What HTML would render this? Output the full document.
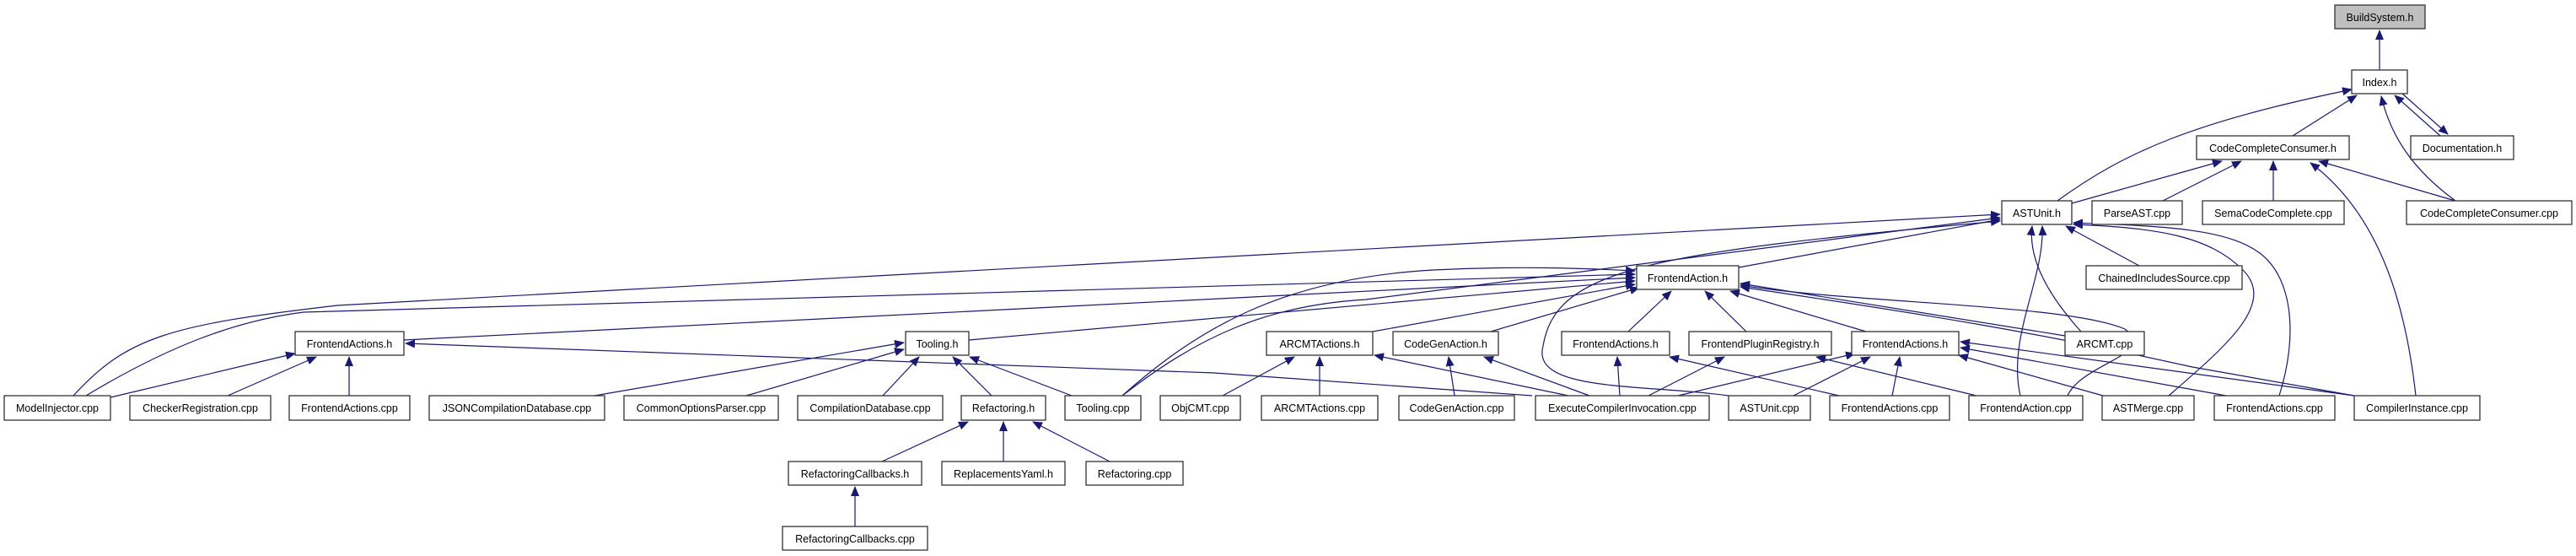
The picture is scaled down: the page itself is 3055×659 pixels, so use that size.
<!DOCTYPE html>
<html><head><meta charset="utf-8"><style>
html,body{margin:0;padding:0;background:#fff;}
svg{display:block;}
text{font-family:"Liberation Sans",Arial,sans-serif;font-size:12.5px;fill:#000;text-anchor:middle;}
.n{fill:#fff;stroke:#333;stroke-width:1.3;}
.e{fill:none;stroke:#191970;stroke-width:1.2;}
</style></head><body>
<svg width="3055" height="659" viewBox="0 0 3055 659" xmlns="http://www.w3.org/2000/svg">
<defs><marker id="a" markerUnits="userSpaceOnUse" markerWidth="12" markerHeight="10" refX="11" refY="5" orient="auto"><path d="M0,0 L12,5 L0,10 z" fill="#191970"/></marker></defs>
<g class="e" marker-end="url(#a)">
<path d="M2822,83 L2822,36"/>
<path d="M2894,161 L2840,113"/>
<path d="M2849,111 L2903,159"/>
<path d="M2719,161 L2795,113"/>
<path d="M2440,238 C2520,180 2600,145 2789,106"/>
<path d="M2912,238 C2860,200 2835,160 2824,114"/>
<path d="M2457,241 L2635,191"/>
<path d="M2565,238 L2658,191"/>
<path d="M2696,238 L2696,191"/>
<path d="M2912,238 L2750,191"/>
<path d="M2865,469 C2855,380 2830,260 2740,193"/>
<path d="M2062,317 L2372,260"/>
<path d="M2537,315 L2450,268"/>
<path d="M2468,393 C2420,340 2406,300 2410,268"/>
<path d="M2396,469 C2380,400 2425,330 2422,268"/>
<path d="M2050,469 C1950,455 1815,465 1830,410 C1845,320 1950,300 2372,262"/>
<path d="M87,469 C150,400 200,385 400,362 L2372,254"/>
<path d="M1331,469 C1420,400 1500,362 1620,355 L2372,258"/>
<path d="M2572,469 C2640,410 2700,360 2660,320 C2620,280 2560,270 2459,266"/>
<path d="M2703,469 C2725,400 2720,330 2680,300 C2640,270 2560,268 2459,264"/>
<path d="M102,469 C200,410 280,380 360,370 L1939,325"/>
<path d="M131,471 L350,419"/>
<path d="M479,403 L1939,329"/>
<path d="M1149,403 L1939,333"/>
<path d="M1628,393 L1939,337"/>
<path d="M1768,393 L1944,341"/>
<path d="M1931,393 L1982,345"/>
<path d="M2071,393 L2022,345"/>
<path d="M2213,393 L2052,345"/>
<path d="M2449,398 L2064,336"/>
<path d="M2452,469 C2470,430 2560,420 2520,390 C2450,360 2200,360 2064,338"/>
<path d="M2792,469 L2600,435 C2420,395 2300,375 2064,340"/>
<path d="M1331,469 C1420,390 1520,330 1700,320 C1800,315 1880,318 1939,321"/>
<path d="M1990,469 L2200,419"/>
<path d="M2127,469 L2218,423"/>
<path d="M2244,469 L2253,423"/>
<path d="M2494,469 L2323,421"/>
<path d="M2640,469 L2325,412"/>
<path d="M2792,469 L2325,405"/>
<path d="M1921,469 L1918,423"/>
<path d="M2181,469 L1980,423"/>
<path d="M1955,469 L2045,423"/>
<path d="M2344,469 L2154,423"/>
<path d="M1725,469 L1718,423"/>
<path d="M1885,469 L1760,423"/>
<path d="M1450,469 L1535,423"/>
<path d="M1565,469 L1565,423"/>
<path d="M1860,469 L1630,421"/>
<path d="M1817,469 L1440,442 L481,407"/>
<path d="M270,469 L375,423"/>
<path d="M414,469 L414,423"/>
<path d="M705,469 L1072,406"/>
<path d="M885,469 L1072,414"/>
<path d="M1047,469 L1090,423"/>
<path d="M1176,469 L1130,423"/>
<path d="M1271,469 L1150,423"/>
<path d="M1046,547 L1148,500"/>
<path d="M1190,547 L1190,500"/>
<path d="M1316,547 L1225,500"/>
<path d="M1014,624 L1014,577"/>
</g>
<g>
<rect class="n" x="2769" y="6" width="107" height="28" style="fill:#bfbfbf"/><text x="2822.5" y="25">BuildSystem.h</text>
<rect class="n" x="2789" y="83" width="66" height="28"/><text x="2822" y="102">Index.h</text>
<rect class="n" x="2605" y="161" width="181" height="28"/><text x="2695.5" y="180">CodeCompleteConsumer.h</text>
<rect class="n" x="2859" y="161" width="122" height="28"/><text x="2920" y="180">Documentation.h</text>
<rect class="n" x="2374" y="238" width="83" height="28"/><text x="2415.5" y="257">ASTUnit.h</text>
<rect class="n" x="2481" y="238" width="107" height="28"/><text x="2534.5" y="257">ParseAST.cpp</text>
<rect class="n" x="2612" y="238" width="168" height="28"/><text x="2696" y="257">SemaCodeComplete.cpp</text>
<rect class="n" x="2854" y="238" width="196" height="28"/><text x="2952" y="257">CodeCompleteConsumer.cpp</text>
<rect class="n" x="1941" y="315" width="121" height="28"/><text x="2001.5" y="334">FrontendAction.h</text>
<rect class="n" x="2474" y="315" width="185" height="28"/><text x="2566.5" y="334">ChainedIncludesSource.cpp</text>
<rect class="n" x="350" y="393" width="129" height="28"/><text x="414.5" y="412">FrontendActions.h</text>
<rect class="n" x="1074" y="393" width="75" height="28"/><text x="1111.5" y="412">Tooling.h</text>
<rect class="n" x="1502" y="393" width="126" height="28"/><text x="1565" y="412">ARCMTActions.h</text>
<rect class="n" x="1652" y="393" width="125" height="28"/><text x="1714.5" y="412">CodeGenAction.h</text>
<rect class="n" x="1852" y="393" width="128" height="28"/><text x="1916" y="412">FrontendActions.h</text>
<rect class="n" x="2003" y="393" width="169" height="28"/><text x="2087.5" y="412">FrontendPluginRegistry.h</text>
<rect class="n" x="2196" y="393" width="127" height="28"/><text x="2259.5" y="412">FrontendActions.h</text>
<rect class="n" x="2449" y="393" width="94" height="28"/><text x="2496" y="412">ARCMT.cpp</text>
<rect class="n" x="5" y="469" width="126" height="29"/><text x="68" y="488">ModelInjector.cpp</text>
<rect class="n" x="154" y="469" width="167" height="29"/><text x="237.5" y="488">CheckerRegistration.cpp</text>
<rect class="n" x="343" y="469" width="143" height="29"/><text x="414.5" y="488">FrontendActions.cpp</text>
<rect class="n" x="509" y="469" width="208" height="29"/><text x="613" y="488">JSONCompilationDatabase.cpp</text>
<rect class="n" x="740" y="469" width="183" height="29"/><text x="831.5" y="488">CommonOptionsParser.cpp</text>
<rect class="n" x="946" y="469" width="172" height="29"/><text x="1032" y="488">CompilationDatabase.cpp</text>
<rect class="n" x="1140" y="469" width="100" height="29"/><text x="1190" y="488">Refactoring.h</text>
<rect class="n" x="1263" y="469" width="90" height="29"/><text x="1308" y="488">Tooling.cpp</text>
<rect class="n" x="1376" y="469" width="95" height="29"/><text x="1423.5" y="488">ObjCMT.cpp</text>
<rect class="n" x="1496" y="469" width="138" height="29"/><text x="1565" y="488">ARCMTActions.cpp</text>
<rect class="n" x="1659" y="469" width="137" height="29"/><text x="1727.5" y="488">CodeGenAction.cpp</text>
<rect class="n" x="1821" y="469" width="206" height="29"/><text x="1924" y="488">ExecuteCompilerInvocation.cpp</text>
<rect class="n" x="2050" y="469" width="97" height="29"/><text x="2098.5" y="488">ASTUnit.cpp</text>
<rect class="n" x="2170" y="469" width="142" height="29"/><text x="2241" y="488">FrontendActions.cpp</text>
<rect class="n" x="2335" y="469" width="135" height="29"/><text x="2402.5" y="488">FrontendAction.cpp</text>
<rect class="n" x="2493" y="469" width="109" height="29"/><text x="2547.5" y="488">ASTMerge.cpp</text>
<rect class="n" x="2626" y="469" width="143" height="29"/><text x="2697.5" y="488">FrontendActions.cpp</text>
<rect class="n" x="2792" y="469" width="149" height="29"/><text x="2866.5" y="488">CompilerInstance.cpp</text>
<rect class="n" x="935" y="547" width="158" height="28"/><text x="1014" y="566">RefactoringCallbacks.h</text>
<rect class="n" x="1117" y="547" width="146" height="28"/><text x="1190" y="566">ReplacementsYaml.h</text>
<rect class="n" x="1288" y="547" width="115" height="28"/><text x="1345.5" y="566">Refactoring.cpp</text>
<rect class="n" x="928" y="624" width="172" height="28"/><text x="1014" y="643">RefactoringCallbacks.cpp</text>
</g>
</svg>
</body></html>
